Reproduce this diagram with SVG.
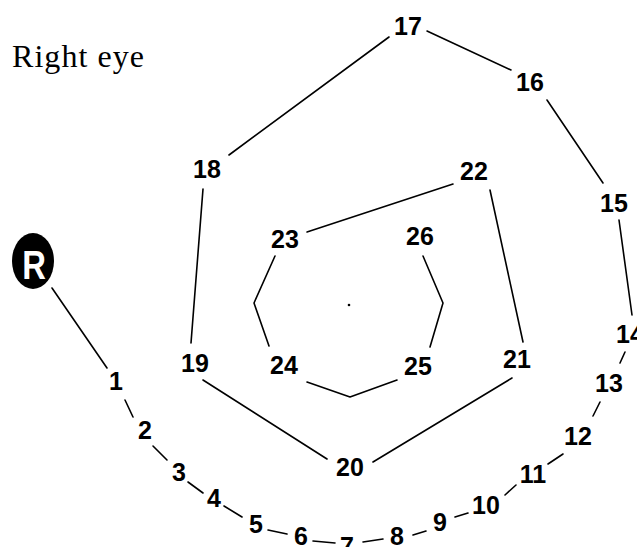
<svg xmlns="http://www.w3.org/2000/svg" width="637" height="547" viewBox="0 0 637 547">
<style>
.lbl{font-family:"Liberation Sans",Arial,sans-serif;font-weight:bold;font-size:25px;fill:#000;text-anchor:middle}
.ln{stroke:#000;stroke-width:1.6;fill:none;stroke-linecap:round;stroke-linejoin:round}
</style>
<rect width="637" height="547" fill="#fff"/>
<text x="12" y="67" font-family="'Liberation Serif','Times New Roman',serif" font-size="32" textLength="132" fill="#000">Right eye</text>
<g id="connectors">
<line class="ln" x1="52" y1="288" x2="107" y2="368"/>
<line class="ln" x1="125" y1="400" x2="133" y2="417"/>
<line class="ln" x1="153" y1="446" x2="167" y2="460"/>
<line class="ln" x1="188" y1="482" x2="203" y2="493"/>
<line class="ln" x1="224" y1="506" x2="242" y2="517"/>
<line class="ln" x1="268" y1="530" x2="287" y2="534"/>
<line class="ln" x1="313" y1="541" x2="335" y2="543"/>
<line class="ln" x1="363" y1="542" x2="383" y2="539"/>
<line class="ln" x1="413" y1="535" x2="426" y2="531"/>
<line class="ln" x1="455" y1="517" x2="468" y2="513"/>
<line class="ln" x1="505" y1="495" x2="516" y2="485"/>
<line class="ln" x1="548" y1="464" x2="563" y2="454"/>
<line class="ln" x1="593" y1="416" x2="600" y2="402"/>
<line class="ln" x1="620" y1="363" x2="625" y2="352"/>
<line class="ln" x1="632" y1="315" x2="619" y2="220"/>
<line class="ln" x1="603" y1="183" x2="547" y2="100"/>
<line class="ln" x1="511" y1="70" x2="427" y2="31"/>
<line class="ln" x1="389" y1="37" x2="229" y2="155"/>
<line class="ln" x1="203" y1="189" x2="191" y2="343"/>
<line class="ln" x1="203" y1="380" x2="327" y2="459"/>
<line class="ln" x1="373" y1="462" x2="512" y2="378"/>
<line class="ln" x1="523" y1="342" x2="490" y2="190"/>
<line class="ln" x1="453" y1="184" x2="307" y2="232"/>
<polyline class="ln" points="275,256 254,303 269,346"/>
<polyline class="ln" points="307,382 350,397 397,380"/>
<polyline class="ln" points="430,347 443,303 423,256"/>
</g>
<circle cx="349" cy="305" r="1.3" fill="#000"/>
<g id="nR"><ellipse cx="33" cy="261" rx="21" ry="28" fill="#000"/><text transform="translate(34 279) scale(0.8 1)" font-family="'Liberation Sans',Arial,sans-serif" font-weight="bold" font-size="41" fill="#fff" text-anchor="middle">R</text></g>
<g id="n1"><text class="lbl" x="116" y="390">1</text></g>
<g id="n2"><text class="lbl" x="145" y="439">2</text></g>
<g id="n3"><text class="lbl" x="179" y="481">3</text></g>
<g id="n4"><text class="lbl" x="214" y="507">4</text></g>
<g id="n5"><text class="lbl" x="256" y="533">5</text></g>
<g id="n6"><text class="lbl" x="301" y="545">6</text></g>
<g id="n7"><text class="lbl" x="347" y="555">7</text></g>
<g id="n8"><text class="lbl" x="397" y="545">8</text></g>
<g id="n9"><text class="lbl" x="440" y="531">9</text></g>
<g id="n10"><text class="lbl" x="486" y="514">10</text></g>
<g id="n11"><text class="lbl" x="533" y="483">11</text></g>
<g id="n12"><text class="lbl" x="578" y="445">12</text></g>
<g id="n13"><text class="lbl" x="609" y="392">13</text></g>
<g id="n14"><text class="lbl" x="616" y="343" style="text-anchor:start">14</text></g>
<g id="n15"><text class="lbl" x="614" y="212">15</text></g>
<g id="n16"><text class="lbl" x="530" y="91">16</text></g>
<g id="n17"><text class="lbl" x="408" y="35">17</text></g>
<g id="n18"><text class="lbl" x="207" y="178">18</text></g>
<g id="n19"><text class="lbl" x="195" y="372">19</text></g>
<g id="n20"><text class="lbl" x="350" y="476">20</text></g>
<g id="n21"><text class="lbl" x="517" y="368">21</text></g>
<g id="n22"><text class="lbl" x="474" y="180">22</text></g>
<g id="n23"><text class="lbl" x="285" y="248">23</text></g>
<g id="n24"><text class="lbl" x="284" y="374">24</text></g>
<g id="n25"><text class="lbl" x="418" y="375">25</text></g>
<g id="n26"><text class="lbl" x="420" y="245">26</text></g>
</svg>
